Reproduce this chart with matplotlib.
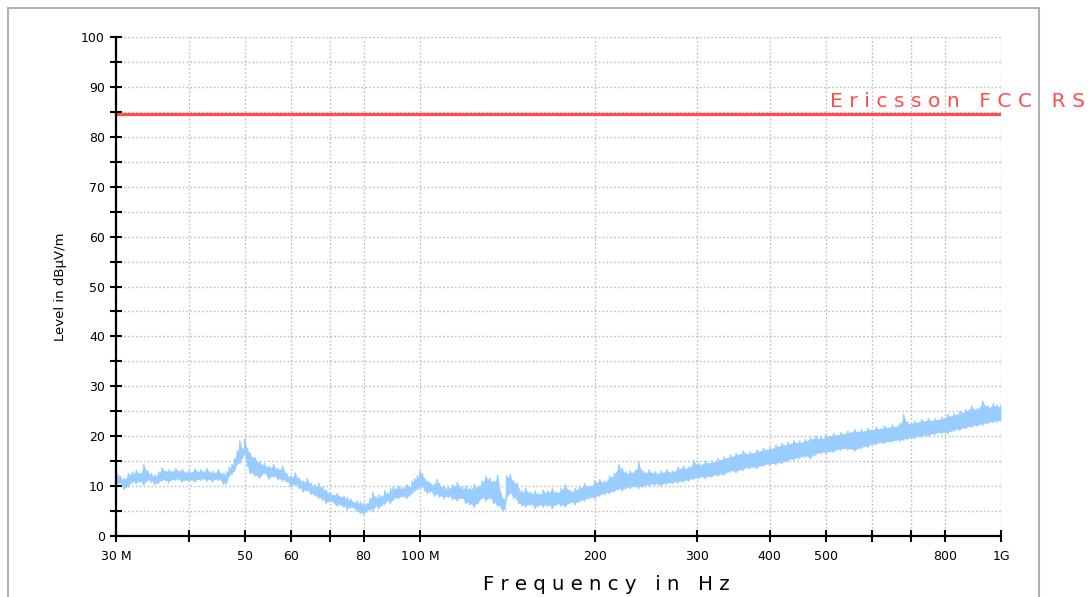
import matplotlib
matplotlib.use("Agg")
import matplotlib.pyplot as plt
from matplotlib.patches import Rectangle
import numpy as np

# measured trace, read as a min / max envelope per frequency (MHz, dBuV/m)
freq_mhz = [30, 30.5, 31, 31.5, 32, 32.5, 33, 33.5, 34, 34.5, 35, 35.5, 36, 37, 38, 39,
            40, 41, 42, 43, 44, 45, 46, 46.5, 47, 47.5, 48, 48.5, 49, 49.5, 50, 50.5,
            51, 52, 53, 54, 55, 56, 57, 58, 59, 60, 61, 62, 63, 64, 65, 66, 67, 68, 69,
            70, 72, 74, 75, 76, 78, 79, 80, 81, 82, 83, 84, 85, 86, 87, 88, 89, 90, 92,
            94, 95, 96, 97, 98, 99, 100, 101, 102, 103, 104, 106, 107, 108, 110, 112,
            114, 116, 118, 120, 122, 124, 126, 128, 130, 132, 134, 136, 138, 139, 140,
            141, 143, 145, 147, 148, 150, 152, 155, 158, 160, 163, 166, 169, 172, 175,
            178, 181, 185, 188, 192, 196, 200, 204, 208, 212, 216, 220, 223, 226, 230,
            235, 238, 242, 248, 254, 260, 266, 272, 278, 284, 290, 296, 302, 310, 318,
            326, 334, 342, 350, 360, 370, 380, 390, 400, 410, 420, 430, 440, 450, 460,
            470, 480, 490, 500, 515, 530, 545, 560, 575, 590, 610, 630, 650, 670, 680,
            690, 710, 730, 750, 770, 790, 810, 830, 850, 870, 890, 910, 930, 950, 970,
            985, 1000]
level_lo = [10.0, 10.5, 9.3, 9.8, 10.7, 10.5, 10.8, 10.2, 11.0, 10.8, 10.3, 10.5, 11.0, 10.7, 11.2, 10.8,
            11.0, 10.8, 11.2, 11.0, 10.9, 11.2, 10.3, 10.5, 12.0, 12.3, 13.0, 14.3, 14.5, 15.5, 16.3, 14.0,
            12.5, 12.0, 11.5, 12.5, 11.4, 11.8, 11.3, 11.0, 10.8, 9.8, 10.2, 9.5, 8.8, 9.0, 8.3, 8.0, 7.5, 7.2, 6.5,
            6.8, 6.0, 5.8, 5.3, 5.6, 5.0, 4.5, 4.3, 4.8, 5.2, 5.0, 5.8, 5.5, 6.0, 6.3, 7.0, 6.5, 7.2, 7.5,
            7.8, 7.5, 8.0, 8.5, 9.0, 9.3, 9.5, 9.8, 9.0, 8.5, 8.8, 8.0, 8.3, 7.8, 7.5, 7.8,
            7.3, 7.0, 7.5, 6.5, 6.3, 5.7, 6.5, 7.5, 7.0, 7.5, 6.5, 6.0, 5.5, 5.0, 5.3,
            7.5, 8.5, 7.5, 7.2, 6.5, 6.0, 5.8, 6.2, 5.5, 6.0, 5.8, 6.0, 5.5, 6.2, 6.0,
            5.8, 6.5, 6.3, 6.8, 7.0, 7.5, 7.5, 8.0, 8.3, 8.5, 8.8, 9.3, 9.0, 9.5, 9.5,
            9.8, 9.5, 9.8, 10.0, 10.2, 10.0, 10.4, 10.5, 10.6, 10.8, 11.0, 11.3, 11.5, 11.5, 11.8,
            12.0, 12.2, 12.8, 12.7, 13.2, 13.5, 13.5, 14.0, 14.2, 14.3, 14.5, 15.0, 15.2, 15.5, 15.8,
            15.5, 16.2, 16.5, 16.5, 16.8, 17.2, 17.3, 17.0, 17.5, 17.8, 18.3, 18.5, 18.8, 19.0, 19.2,
            19.3, 19.5, 19.8, 20.0, 20.3, 20.5, 20.5, 21.0, 21.2, 21.5, 21.8, 22.0, 22.2, 22.5, 22.7,
            22.8, 23.0]
level_hi = [13.0, 12.0, 11.5, 12.5, 12.8, 13.2, 12.6, 14.3, 13.0, 12.5, 12.2, 12.8, 13.6, 13.2, 13.5, 13.3,
            13.0, 13.4, 13.2, 13.5, 12.9, 13.3, 12.6, 12.8, 13.8, 14.3, 15.5, 17.0, 19.0, 17.5, 19.3, 17.5,
            16.7, 15.7, 14.8, 14.5, 14.0, 14.3, 13.5, 14.0, 12.5, 12.0, 12.6, 11.6, 11.0, 11.5, 10.5, 10.2, 10.5, 9.8, 9.2,
            8.7, 8.5, 8.0, 7.7, 7.4, 7.0, 6.8, 6.5, 6.5, 7.5, 8.7, 7.8, 8.2, 8.0, 9.0, 8.6, 9.5, 9.8, 10.0,
            9.8, 10.3, 9.9, 11.0, 11.5, 12.0, 13.0, 12.5, 11.5, 11.0, 10.8, 10.5, 11.3, 10.5, 10.0, 9.8,
            10.2, 10.7, 9.8, 10.0, 9.5, 10.3, 10.0, 11.0, 12.0, 11.5, 11.0, 12.2, 8.5, 7.5, 7.3,
            12.0, 12.3, 11.0, 10.5, 9.5, 9.0, 9.5, 8.8, 9.0, 8.5, 9.2, 9.0, 9.5, 8.8, 9.5,
            10.3, 9.2, 9.5, 9.8, 10.5, 10.0, 11.0, 11.3, 11.0, 12.0, 12.5, 14.3, 13.5, 12.8, 13.0,
            13.2, 14.7, 13.0, 13.2, 12.9, 13.0, 13.3, 13.0, 13.8, 14.0, 13.8, 15.1, 14.5, 15.0, 15.0,
            15.5, 15.8, 16.2, 16.5, 17.0, 16.8, 17.2, 17.6, 17.7, 18.2, 18.5, 18.7, 19.1, 19.0, 19.3,
            19.7, 20.0, 19.8, 20.2, 20.5, 20.7, 21.0, 21.3, 21.3, 21.5, 21.8, 22.0, 22.2, 22.5, 24.3,
            22.8, 23.0, 23.3, 23.5, 23.5, 23.8, 24.3, 24.5, 25.0, 25.3, 26.0, 25.5, 27.0, 26.0, 26.5,
            26.3, 26.2]

limit_name = "Ericsson FCC RS"
limit_level = 84.5

x_ticks = [30, 40, 50, 60, 70, 80, 100, 200, 300, 400, 500, 600, 700, 800, 1000]
x_labels = {30: "30 M", 50: "50", 60: "60", 80: "80", 100: "100 M",
            200: "200", 300: "300", 400: "400", 500: "500", 800: "800", 1000: "1G"}

f = np.array(freq_mhz)
lo = np.array(level_lo)
hi = np.array(level_hi)

fig = plt.figure(figsize=(10.91, 5.97), dpi=100)
ax = fig.add_axes([116 / 1091, 61 / 597, 885 / 1091, 499 / 597])

trace_col = "#99ccff"
ax.fill_between(f, lo + 0.3, hi - 0.3, color=trace_col, lw=0, zorder=3)
# jagged edge: vertical strokes between min and max at each reading
zx = np.repeat(f, 2)
zy = np.column_stack([lo, hi]).ravel()
ax.plot(zx, zy, color=trace_col, lw=1.1, zorder=3)

ax.plot([30, 1000], [limit_level, limit_level], color="#ff4d4d", lw=2.3, zorder=4)

ax.set_xscale("log")
ax.set_xlim(30, 1000)
ax.set_ylim(0, 100)

ax.set_xticks(x_ticks)
ax.set_xticklabels([x_labels.get(t, "") for t in x_ticks])
ax.xaxis.set_minor_locator(matplotlib.ticker.NullLocator())
ax.set_yticks(np.arange(0, 101, 10))
ax.set_yticks(np.arange(5, 100, 10), minor=True)

ax.tick_params(axis="both", which="both", direction="inout", length=8, width=1.5,
               colors="black", labelsize=9)
ax.tick_params(axis="x", pad=6)
ax.tick_params(axis="y", pad=4)

grid_kw = dict(color="#bdbdbd", linestyle=(0, (1.2, 1.6)), linewidth=1.0)
ax.grid(True, axis="x", which="major", **grid_kw)
ax.grid(True, axis="y", which="both", **grid_kw)
ax.set_axisbelow(True)

for side in ["top", "right"]:
    ax.spines[side].set_visible(False)
for side in ["left", "bottom"]:
    ax.spines[side].set_linewidth(1.6)
    ax.spines[side].set_zorder(5)

ax.set_ylabel("Level in dB\u00b5V/m", fontsize=9.5, labelpad=10)
fig.text(483 / 1091, 1 - 590 / 597, " ".join("Frequency in Hz"),
         fontsize=14.2, ha="left", va="baseline")

fig.text(830 / 1091, 1 - 107 / 597, " ".join(limit_name), color="#ff4d4d",
         fontsize=14.6, ha="left", va="baseline")

# outer frame of the report page
fig.patches.append(Rectangle((8 / 1091, -0.1), 1031 / 1091, 1.1 - 8 / 597,
                             transform=fig.transFigure, fill=False,
                             edgecolor="#b0b0b0", lw=1.5))

fig.savefig("out.png", dpi=100)
